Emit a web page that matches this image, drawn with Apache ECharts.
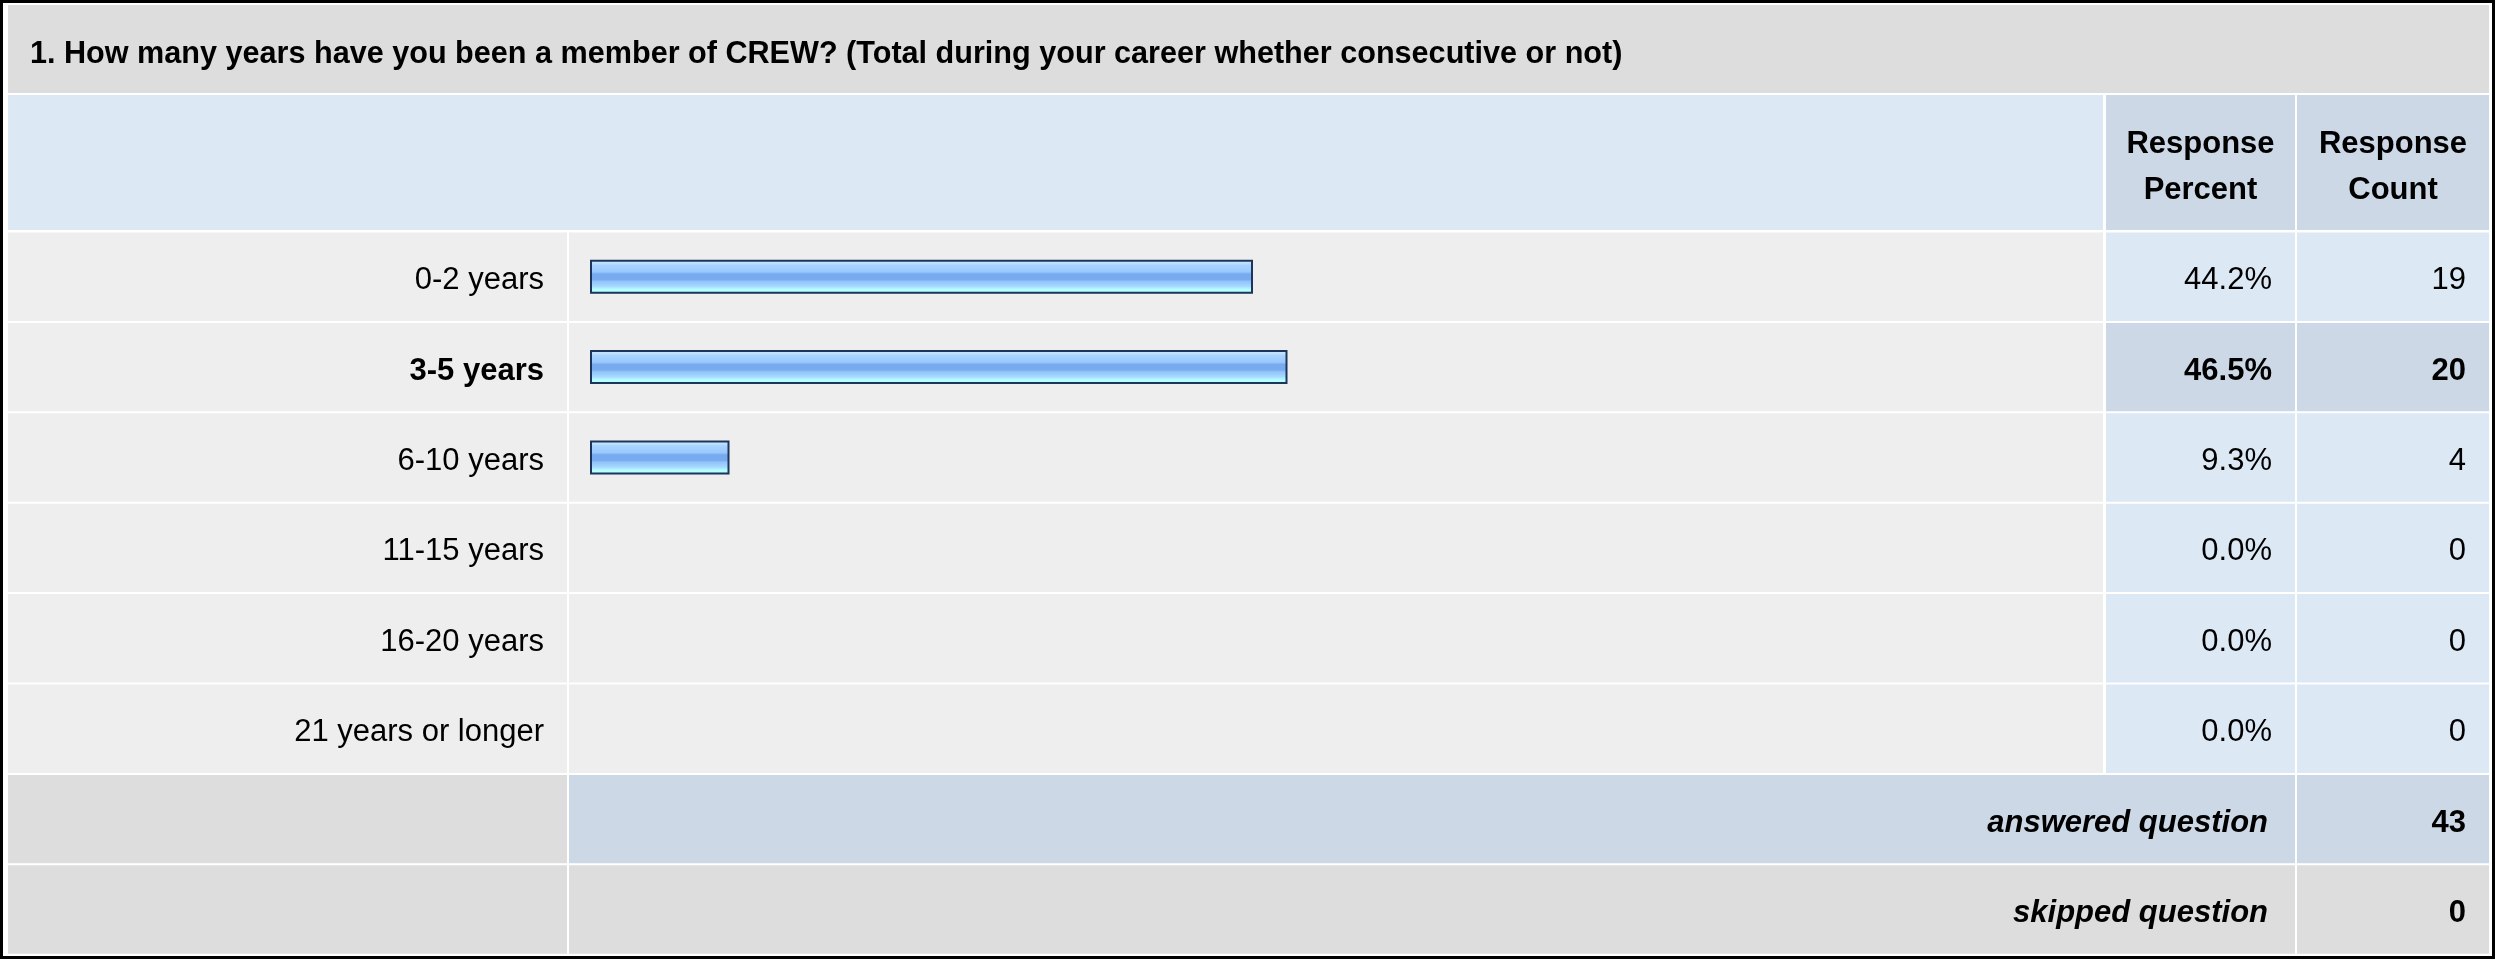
<!DOCTYPE html>
<html>
<head>
<meta charset="utf-8">
<style>
  html, body { margin: 0; padding: 0; background: #ffffff; }
  #chart { width: 2496px; height: 959px; }
</style>
<script src="https://cdn.jsdelivr.net/npm/echarts@6/dist/echarts.min.js"></script>
</head>
<body>
<div id="chart"></div>
<script>
// ---------- DATA ----------
const titleText = '1. How many years have you been a member of CREW? (Total during your career whether consecutive or not)';
const categories = ['0-2 years', '3-5 years', '6-10 years', '11-15 years', '16-20 years', '21 years or longer'];
const responsePercent = [44.2, 46.5, 9.3, 0.0, 0.0, 0.0];
const responseCount = [19, 20, 4, 0, 0, 0];
const headerLabels = ['Response\nPercent', 'Response\nCount'];
const footerLabels = ['answered question', 'skipped question'];
const footerCounts = [43, 0];

// ---------- LAYOUT ----------
const FONT = "'Liberation Sans', Arial, Helvetica, sans-serif";
const FS = 31;
const colA = [8, 567], colB = [569, 2103], colC = [2106, 2295], colD = [2297, 2489];
const PAD = 23;
const gridTop = 231.5, pitch = 90.4, nRows = categories.length;
const GAP = 2;
const DY = 4;
const C_GRAY = '#eeeeee', C_DGRAY = '#dddddd', C_BLUE = '#dde8f5', C_DBLUE = '#ccd8e6';
const maxIdx = responseCount.indexOf(Math.max.apply(null, responseCount));

const chart = echarts.init(document.getElementById('chart'), null, { renderer: 'canvas' });

function rect(x0, x1, y, h, fill) {
  return { type: 'rect', shape: { x: x0, y: y, width: x1 - x0, height: h }, style: { fill: fill }, silent: true };
}
function txt(x, y, text, opts) {
  return {
    type: 'text',
    style: Object.assign({
      x: x, y: y, text: text, fill: '#000000', fontFamily: FONT, fontSize: FS,
      align: 'right', verticalAlign: 'middle'
    }, opts || {}),
    silent: true
  };
}

// Static parts of the table (title, header, footer)
const graphics = [];
graphics.push({ type: 'rect', shape: { x: 1.5, y: 1.5, width: 2492, height: 956 }, style: { fill: null, stroke: '#000000', lineWidth: 3 }, silent: true, z: 100 });
graphics.push(rect(colA[0], colD[1], 5, 88, C_DGRAY));
graphics.push(txt(30, 55, titleText, { align: 'left', fontWeight: 'bold', fontSize: 30.6 }));
graphics.push(rect(colA[0], colB[1], 95, 135, C_BLUE));
graphics.push(rect(colC[0], colC[1], 95, 135, C_DBLUE));
graphics.push(rect(colD[0], colD[1], 95, 135, C_DBLUE));
graphics.push(txt((colC[0] + colC[1]) / 2, 167, headerLabels[0], { align: 'center', fontWeight: 'bold', lineHeight: 46 }));
graphics.push(txt((colD[0] + colD[1]) / 2, 167, headerLabels[1], { align: 'center', fontWeight: 'bold', lineHeight: 46 }));
footerLabels.forEach(function (lab, k) {
  const top = gridTop + (nRows + k) * pitch + GAP / 2;
  const h = pitch - GAP;
  const fill = k === 0 ? C_DBLUE : C_DGRAY;
  graphics.push(rect(colA[0], colA[1], top, h, C_DGRAY));
  graphics.push(rect(colB[0], colC[1], top, h, fill));
  graphics.push(rect(colD[0], colD[1], top, h, fill));
  graphics.push(txt(colC[1] - PAD - 4, top + h / 2 + DY, lab, { fontWeight: 'bold', fontStyle: 'italic' }));
  graphics.push(txt(colD[1] - PAD, top + h / 2 + DY, String(footerCounts[k]), { fontWeight: 'bold' }));
});

const barGradient = new echarts.graphic.LinearGradient(0, 0, 0, 1, [
  { offset: 0.00, color: '#cfe8ff' },
  { offset: 0.10, color: '#bfe0ff' },
  { offset: 0.16, color: '#a8d4ff' },
  { offset: 0.36, color: '#99c8fd' },
  { offset: 0.42, color: '#77aaef' },
  { offset: 0.58, color: '#77aaef' },
  { offset: 0.64, color: '#92c4fa' },
  { offset: 0.78, color: '#a6d9ff' },
  { offset: 0.85, color: '#b2f4ff' },
  { offset: 0.88, color: '#b6ffff' },
  { offset: 1.00, color: '#b6ffff' }
]);

const option = {
  backgroundColor: '#ffffff',
  animation: false,
  grid: { left: 590, width: 1500, top: gridTop, height: pitch * nRows },
  xAxis: { type: 'value', min: 0, max: 100, show: false },
  yAxis: { type: 'category', data: categories, inverse: true, show: false },
  graphic: graphics,
  series: [
    {
      type: 'custom',
      z: 1,
      silent: true,
      data: categories.map(function (c, i) { return [0, i]; }),
      encode: { x: 0, y: 1 },
      renderItem: function (params, api) {
        const i = api.value(1);
        const p = api.coord([0, i]);
        const cy = p[1];
        const h = api.size([0, 1])[1] - GAP;
        const top = cy - h / 2;
        const bold = i === maxIdx ? 'bold' : 'normal';
        const cellFill = i === maxIdx ? C_DBLUE : C_BLUE;
        return {
          type: 'group',
          children: [
            rect(colA[0], colA[1], top, h, C_GRAY),
            rect(colB[0], colB[1], top, h, C_GRAY),
            rect(colC[0], colC[1], top, h, cellFill),
            rect(colD[0], colD[1], top, h, cellFill),
            txt(colA[1] - PAD, cy + DY, categories[i], { fontWeight: bold }),
            txt(colC[1] - PAD, cy + DY, responsePercent[i].toFixed(1) + '%', { fontWeight: bold }),
            txt(colD[1] - PAD, cy + DY, String(responseCount[i]), { fontWeight: bold })
          ]
        };
      }
    },
    {
      type: 'bar',
      z: 3,
      silent: true,
      barWidth: 34,
      data: responsePercent.map(function (v) {
        return v > 0 ? { value: v } : { value: v, itemStyle: { borderWidth: 0, opacity: 0 } };
      }),
      itemStyle: { color: barGradient, borderColor: '#1c355c', borderWidth: 2 }
    }
  ]
};
chart.setOption(option);
</script>
</body>
</html>
